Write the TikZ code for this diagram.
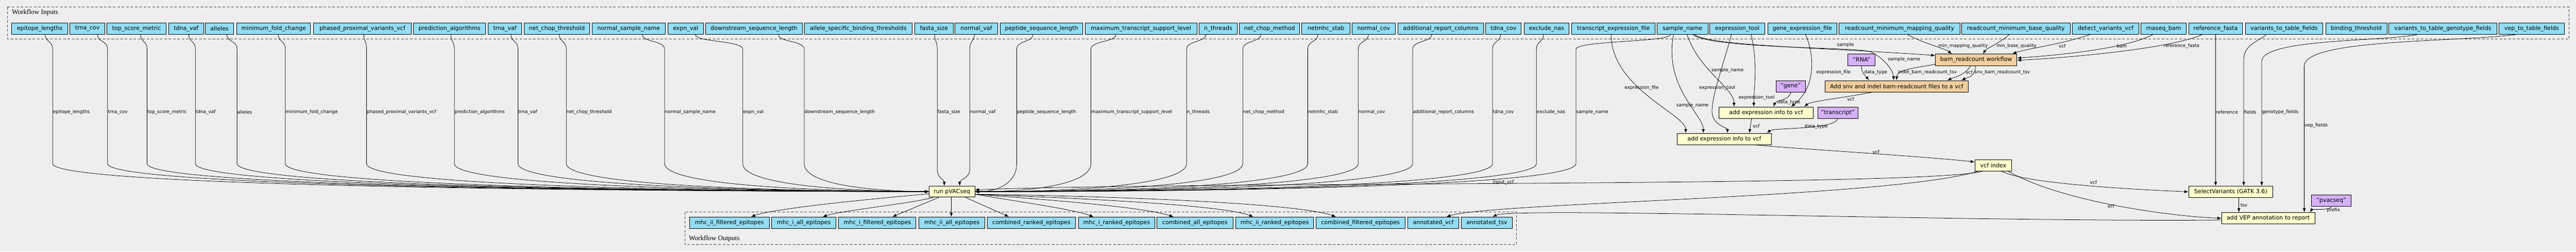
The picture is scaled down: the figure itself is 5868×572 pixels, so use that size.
\documentclass[tikz,border=0pt]{standalone}
\usepackage{fontspec}
\setmainfont{DejaVu Sans}
\newfontfamily\clusterfont{Liberation Serif}
\usetikzlibrary{arrows.meta}
\definecolor{bgc}{HTML}{EEEEEE}
\definecolor{inblue}{HTML}{94DDF4}
\definecolor{stepyel}{HTML}{FFFFCC}
\definecolor{steporg}{HTML}{F3CE9E}
\definecolor{cpurple}{HTML}{D5B0FB}
\definecolor{clgray}{HTML}{444444}
\newcommand\nfont{\fontsize{13}{15}\selectfont}
\newcommand\efont{\fontsize{10.5}{12}\selectfont}
\newcommand\LeftIn[5]{%
  \path (#2,0) coordinate (tt);
  \draw[edge] (#1.south -| tt) .. controls (#2,96) and (#3,92) .. (#3,112) -- (#3,372) .. controls (#3,418) and ({#3+0.5*(2116-#3)},434) .. (pv.west);
  \node[lab] (#5) at (#3,255) {#4};}
\newcommand\RightIn[5]{%
  \path (#2,0) coordinate (tt);
  \draw[edge] (#1.south -| tt) .. controls (#2,96) and (#3,92) .. (#3,112) -- (#3,372) .. controls (#3,418) and ({#3-0.5*(#3-2220)},436) .. (pv.east);
  \node[lab] (#5) at (#3,255) {#4};}
\begin{document}
\begin{tikzpicture}[x=1pt,y=-1pt,
  box/.style={draw=black,line width=1pt,minimum height=26pt,inner sep=0pt,font=\nfont,anchor=west},
  inp/.style={box,fill=inblue},
  stepy/.style={box,fill=stepyel},
  stepo/.style={box,fill=steporg},
  const/.style={box,fill=cpurple},
  outp/.style={box,fill=inblue},
  edge/.style={draw=black,line width=0.9pt,-{Latex[length=9pt,width=7pt]}},
  lab/.style={font=\efont,inner sep=0.5pt,anchor=west},
  cluster/.style={draw=clgray,line width=1.2pt,dash pattern=on 6pt off 4pt},
  cllab/.style={font=\clusterfont\fontsize{15.5}{17}\selectfont,anchor=west,inner sep=0pt}]
\fill[bgc] (0,0) rectangle (5868,572);
\useasboundingbox (0,0) rectangle (5868,572);
% clusters
\draw[cluster] (17,16) rectangle (5852,89);
\node[cllab] (inlabel) at (27,28) {Workflow Inputs};
\draw[cluster] (1560,482) rectangle (3455,556);
\node[cllab] (outlabel) at (1569,542) {Workflow Outputs};
% inputs
\node[inp,minimum width=128pt] (epi) at (26,65) {epitope\_lengths};
\node[inp,minimum width=79pt] (trnacov) at (159,65) {trna\_cov};
\node[inp,minimum width=135pt] (tsm) at (243,65) {top\_score\_metric};
\node[inp,minimum width=79pt] (tdnavaf) at (384,65) {tdna\_vaf};
\node[inp,minimum width=65pt] (alleles) at (467,65) {alleles};
\node[inp,minimum width=168pt] (mfc) at (539,65) {minimum\_fold\_change};
\node[inp,minimum width=222pt] (ppv) at (714,65) {phased\_proximal\_variants\_vcf};
\node[inp,minimum width=165pt] (pa) at (941,65) {prediction\_algorithms};
\node[inp,minimum width=77pt] (trnavaf) at (1111,65) {trna\_vaf};
\node[inp,minimum width=150pt] (nct) at (1193,65) {net\_chop\_threshold};
\node[inp,minimum width=167pt] (nsn) at (1348,65) {normal\_sample\_name};
\node[inp,minimum width=81pt] (expn) at (1521,65) {expn\_val};
\node[inp,minimum width=220pt] (dsl) at (1607,65) {downstream\_sequence\_length};
\node[inp,minimum width=245pt] (asbt) at (1832,65) {allele\_specific\_binding\_thresholds};
\node[inp,minimum width=88pt] (fasta) at (2083,65) {fasta\_size};
\node[inp,minimum width=97pt] (nvaf) at (2175,65) {normal\_vaf};
\node[inp,minimum width=188pt] (psl) at (2278,65) {peptide\_sequence\_length};
\node[inp,minimum width=255pt] (mtsl) at (2471,65) {maximum\_transcript\_support\_level};
\node[inp,minimum width=87pt] (nthr) at (2731,65) {n\_threads};
\node[inp,minimum width=137pt] (ncm) at (2823,65) {net\_chop\_method};
\node[inp,minimum width=110pt] (nstab) at (2965,65) {netmhc\_stab};
\node[inp,minimum width=99pt] (ncov) at (3079,65) {normal\_cov};
\node[inp,minimum width=195pt] (arc) at (3184,65) {additional\_report\_columns};
\node[inp,minimum width=81pt] (tdnacov) at (3384,65) {tdna\_cov};
\node[inp,minimum width=103pt] (exna) at (3471,65) {exclude\_nas};
\node[inp,minimum width=190pt] (tef) at (3580,65) {transcript\_expression\_file};
\node[inp,minimum width=116pt] (sname) at (3774,65) {sample\_name};
\node[inp,minimum width=126pt] (etool) at (3894,65) {expression\_tool};
\node[inp,minimum width=158pt] (gef) at (4026,65) {gene\_expression\_file};
\node[inp,minimum width=275pt] (rmmq) at (4189,65) {readcount\_minimum\_mapping\_quality};
\node[inp,minimum width=247pt] (rmbq) at (4468,65) {readcount\_minimum\_base\_quality};
\node[inp,minimum width=152pt] (dvv) at (4720,65) {detect\_variants\_vcf};
\node[inp,minimum width=104pt] (rbam) at (4876,65) {rnaseq\_bam};
\node[inp,minimum width=123pt] (reff) at (4985,65) {reference\_fasta};
\node[inp,minimum width=177pt] (vttf) at (5114,65) {variants\_to\_table\_fields};
\node[inp,minimum width=140pt] (bthr) at (5297,65) {binding\_threshold};
\node[inp,minimum width=246pt] (vtgf) at (5441,65) {variants\_to\_table\_genotype\_fields};
\node[inp,minimum width=149pt] (vtvf) at (5692,65) {vep\_to\_table\_fields};
% steps
\node[const,minimum width=62pt] (rna) at (4209,136) {"RNA"};
\node[stepo,minimum width=186pt] (bamrc) at (4408,136) {bam\_readcount workflow};
\node[stepo,minimum width=326pt] (addsnv) at (4157,196) {Add snv and indel bam-readcount files to a vcf};
\node[const,minimum width=67pt] (gene) at (4045,196) {"gene"};
\node[stepy,minimum width=215pt] (ae1) at (3915,256) {add expression info to vcf};
\node[const,minimum width=92pt] (trs) at (4140,256) {"transcript"};
\node[stepy,minimum width=215pt] (ae2) at (3820,316) {add expression info to vcf};
\node[stepy,minimum width=84pt] (vidx) at (4498,376) {vcf index};
\node[stepy,minimum width=104pt,minimum height=25pt] (pv) at (2116,435.5) {run pVACseq};
\node[stepy,minimum width=192pt] (sv) at (4985,436) {SelectVariants (GATK 3.6)};
\node[const,minimum width=90pt] (pvq) at (5265,456) {"pvacseq"};
\node[stepy,minimum width=213pt] (avep) at (5060,496) {add VEP annotation to report};
% outputs
\node[outp,minimum width=182pt] (o1) at (1570,506) {mhc\_ii\_filtered\_epitopes};
\node[outp,minimum width=147pt] (o2) at (1757,506) {mhc\_i\_all\_epitopes};
\node[outp,minimum width=176pt] (o3) at (1910,506) {mhc\_i\_filtered\_epitopes};
\node[outp,minimum width=150pt] (o4) at (2093,506) {mhc\_ii\_all\_epitopes};
\node[outp,minimum width=200pt] (o5) at (2249,506) {combined\_ranked\_epitopes};
\node[outp,minimum width=174pt] (o6) at (2456,506) {mhc\_i\_ranked\_epitopes};
\node[outp,minimum width=173pt] (o7) at (2635,506) {combined\_all\_epitopes};
\node[outp,minimum width=178pt] (o8) at (2814,506) {mhc\_ii\_ranked\_epitopes};
\node[outp,minimum width=203pt] (o9) at (2997,506) {combined\_filtered\_epitopes};
\node[outp,minimum width=117pt] (o10) at (3206,506) {annotated\_vcf};
\node[outp,minimum width=117pt] (o11) at (3328,506) {annotated\_tsv};
% inputs to run pVACseq
\LeftIn{epi}{103}{120}{epitope\_lengths}{l1}
\LeftIn{trnacov}{222}{245}{trna\_cov}{l2}
\LeftIn{tsm}{320}{335}{top\_score\_metric}{l3}
\LeftIn{tdnavaf}{430}{445}{tdna\_vaf}{l4}
\LeftIn{alleles}{517}{540}{alleles}{l5}
\LeftIn{mfc}{634}{650}{minimum\_fold\_change}{l6}
\LeftIn{ppv}{829}{835}{phased\_proximal\_variants\_vcf}{l7}
\LeftIn{pa}{1027}{1035}{prediction\_algorithms}{l8}
\LeftIn{trnavaf}{1164}{1180}{trna\_vaf}{l9}
\LeftIn{nct}{1274}{1290}{net\_chop\_threshold}{l10}
\LeftIn{nsn}{1463}{1514}{normal\_sample\_name}{l11}
\LeftIn{expn}{1584}{1692}{expn\_val}{l12}
\LeftIn{dsl}{1773}{1832}{downstream\_sequence\_length}{l13}
\path (2129,0) coordinate (ta); \path (2151,0) coordinate (tb);
\draw[edge] (fasta.south -| ta) .. controls (2129,96) and (2135,92) .. (2135,112) -- (2135,385) .. controls (2135,405) and (2151,408) .. (pv.north -| tb);
\node[lab] (l14) at (2135,255) {fasta\_size};
\path (2220,0) coordinate (ta); \path (2186,0) coordinate (tb);
\draw[edge] (nvaf.south -| ta) .. controls (2218,96) and (2209,92) .. (2209,112) -- (2209,385) .. controls (2209,405) and (2186,408) .. (pv.north -| tb);
\node[lab] (l15) at (2209,255) {normal\_vaf};
\RightIn{psl}{2353}{2316}{peptide\_sequence\_length}{l16}
\RightIn{mtsl}{2542}{2485}{maximum\_transcript\_support\_level}{l17}
\RightIn{nthr}{2747}{2703}{n\_threads}{l18}
\RightIn{ncm}{2872}{2831}{net\_chop\_method}{l19}
\RightIn{nstab}{3002}{2979}{netmhc\_stab}{l20}
\RightIn{ncov}{3117}{3094}{normal\_cov}{l21}
\RightIn{arc}{3261}{3218}{additional\_report\_columns}{l22}
\RightIn{tdnacov}{3418}{3400}{tdna\_cov}{l23}
\RightIn{exna}{3516}{3500}{exclude\_nas}{l24}
\RightIn{sname}{3805}{3590}{sample\_name}{l25}
% bam_readcount inputs
\path (3860,0) coordinate (ta);
\draw[edge] (sname.south -| ta) .. controls (3890,104) and (4150,108) .. ([yshift=10pt]bamrc.west);
\node[lab] (lsample) at (4184,102) {sample};
\path (3856,0) coordinate (ta); \path (4314,0) coordinate (tb);
\draw[edge] (sname.south -| ta) .. controls (3900,112) and (4235,106) .. (4262,118) .. controls (4295,135) and (4312,160) .. (addsnv.north -| tb);
\node[lab] (lsn1) at (4300,135) {sample\_name};
\path (4257,0) coordinate (tb);
\draw[edge] (rna.south) .. controls (4240,168) and (4250,172) .. (addsnv.north -| tb);
\node[lab] (ldt1) at (4246,165) {data\_type};
\path (4320,0) coordinate (tb);
\draw[edge] ([yshift=-10pt]bamrc.west) .. controls (4360,155) and (4322,158) .. (addsnv.north -| tb);
\node[lab] (lindel) at (4323,165) {indel\_bam\_readcount\_tsv};
\path (4489,0) coordinate (ta); \path (4436,0) coordinate (tb);
\draw[edge] (bamrc.south -| ta) .. controls (4475,172) and (4450,176) .. (addsnv.north -| tb);
\node[lab] (lvcf1) at (4477,165) {vcf};
\path (4500,0) coordinate (ta); \path (4468,0) coordinate (tb);
\draw[edge] (bamrc.south -| ta) .. controls (4500,175) and (4482,176) .. (addsnv.north -| tb);
\node[lab] (lsnv) at (4497,165) {snv\_bam\_readcount\_tsv};
\path (4345,0) coordinate (ta); \path (4446,0) coordinate (tb);
\draw[edge] (rmmq.south -| ta) .. controls (4380,98) and (4430,110) .. (bamrc.north -| tb);
\node[lab] (lmmq) at (4415,105) {min\_mapping\_quality};
\path (4577,0) coordinate (ta); \path (4517,0) coordinate (tb);
\draw[edge] (rmbq.south -| ta) .. controls (4555,98) and (4525,110) .. (bamrc.north -| tb);
\node[lab] (lmbq) at (4547,105) {min\_base\_quality};
\path (4761,0) coordinate (ta); \path (4584,0) coordinate (tb);
\draw[edge] (dvv.south -| ta) .. controls (4700,100) and (4610,112) .. (bamrc.north -| tb);
\node[lab] (lvcf2) at (4689,105) {vcf};
\path (4904,0) coordinate (ta);
\draw[edge] (rbam.south -| ta) .. controls (4840,112) and (4680,126) .. ([yshift=4pt]bamrc.east);
\node[lab] (lbam) at (4821,105) {bam};
\path (5017,0) coordinate (ta);
\draw[edge] (reff.south -| ta) .. controls (4940,112) and (4700,132) .. ([yshift=-1pt]bamrc.east);
\node[lab] (lrf) at (4928,105) {reference\_fasta};
% SelectVariants / VEP inputs
\path (5047,0) coordinate (ta);
\draw[edge] (reff.south -| ta) -- (sv.north -| ta);
\node[lab] (lref) at (5047,255) {reference};
\path (5162,0) coordinate (ta); \path (5111,0) coordinate (tb);
\draw[edge] (vttf.south -| ta) .. controls (5150,92) and (5111,100) .. (5111,135) -- (sv.north -| tb);
\node[lab] (lfld) at (5111,255) {fields};
\path (5507,0) coordinate (ta); \path (5152,0) coordinate (tb);
\draw[edge] (vtgf.south -| ta) .. controls (5420,95) and (5152,88) .. (5152,140) -- (sv.north -| tb);
\node[lab] (lgf) at (5152,255) {genotype\_fields};
\path (5731,0) coordinate (ta); \path (5249,0) coordinate (tb);
\draw[edge] (vtvf.south -| ta) .. controls (5600,96) and (5249,88) .. (5249,150) -- (avep.north -| tb);
\node[lab] (lvf) at (5249,285) {vep\_fields};
% expression annotation
\path (4113,0) coordinate (ta); \path (4080,0) coordinate (tb);
\draw[edge] (gef.south -| ta) .. controls (4135,130) and (4135,200) .. (ae1.north -| tb);
\node[lab] (lef1) at (4137,165) {expression\_file};
\path (4265,0) coordinate (ta); \path (4110,0) coordinate (tb);
\draw[edge] (addsnv.south -| ta) .. controls (4190,224) and (4125,230) .. (ae1.north -| tb);
\node[lab] (lvcf3) at (4207,225) {vcf};
\path (4040,0) coordinate (tb);
\draw[edge] (gene.south) .. controls (4078,228) and (4045,228) .. (ae1.north -| tb);
\node[lab] (ldt2) at (4048,232) {data\_type};
\path (3843,0) coordinate (ta); \path (3950,0) coordinate (tb);
\draw[edge] (sname.south -| ta) .. controls (3870,160) and (3950,200) .. (ae1.north -| tb);
\node[lab] (lsn2) at (3898,160) {sample\_name};
\path (3989,0) coordinate (ta); \path (3995,0) coordinate (tb);
\draw[edge] (etool.south -| ta) .. controls (4005,150) and (3995,200) .. (ae1.north -| tb);
\node[lab] (let1) at (3960,222) {expression\_tool};
\path (3990,0) coordinate (ta); \path (3985,0) coordinate (tb);
\draw[edge] (ae1.south -| ta) -- (ae2.north -| tb);
\node[lab] (lvcf4) at (3992,286) {vcf};
\path (4025,0) coordinate (tb);
\draw[edge] (trs.south) .. controls (4180,295) and (4040,290) .. (ae2.north -| tb);
\node[lab] (ldt3) at (4110,288) {data\_type};
\path (3812,0) coordinate (ta); \path (3880,0) coordinate (tb);
\draw[edge] (sname.south -| ta) .. controls (3790,200) and (3880,260) .. (ae2.north -| tb);
\node[lab] (lsn3) at (3818,240) {sample\_name};
\path (3944,0) coordinate (ta); \path (3935,0) coordinate (tb);
\draw[edge] (etool.south -| ta) .. controls (3925,150) and (3898,220) .. (3900,256) .. controls (3902,285) and (3935,290) .. (ae2.north -| tb);
\node[lab] (let2) at (3870,200) {expression\_tool};
\path (3670,0) coordinate (ta); \path (3840,0) coordinate (tb);
\draw[edge] (tef.south -| ta) .. controls (3670,200) and (3840,260) .. (ae2.north -| tb);
\node[lab] (lef2) at (3700,200) {expression\_file};
\path (4000,0) coordinate (ta);
\draw[edge] (ae2.south -| ta) .. controls (4060,336) and (4380,355) .. ([yshift=8pt]vidx.west);
\node[lab] (lvcf5) at (4265,345) {vcf};
% vcf index outputs
\path (4515,0) coordinate (ta);
\draw[edge] (vidx.south -| ta) .. controls (4380,425) and (2700,412) .. ([yshift=4pt]pv.east);
\node[lab] (linp) at (3400,414) {input\_vcf};
\path (4560,0) coordinate (ta);
\draw[edge] (vidx.south -| ta) .. controls (4620,420) and (4900,432) .. (sv.west);
\node[lab] (lvcf6) at (4760,415) {vcf};
\path (4575,0) coordinate (ta);
\draw[edge] (vidx.south -| ta) .. controls (4700,460) and (4950,492) .. (avep.west);
\node[lab] (lvcf7) at (4800,468) {vcf};
\path (4505,0) coordinate (ta); \path (3295,0) coordinate (tb);
\draw[edge] (vidx.south -| ta) .. controls (4300,450) and (3400,460) .. (o10.north -| tb);
\path (5100,0) coordinate (tb);
\draw[edge] (sv.south -| tb) -- (avep.north -| tb);
\node[lab] (ltsv) at (5103,466) {tsv};
\path (5262,0) coordinate (tb);
\draw[edge] (pvq.south) .. controls (5310,478) and (5266,476) .. (avep.north -| tb);
\node[lab] (lpre) at (5300,478) {prefix};
\path (3400,0) coordinate (tb);
\draw[edge] ([yshift=-4pt]avep.west) .. controls (4500,505) and (3450,470) .. (o11.north -| tb);
% run pVACseq outputs
\path (1711,0) coordinate (tb);
\draw[edge] ([yshift=-5pt]pv.west) .. controls (1950,455) and (1760,475) .. (o1.north -| tb);
\path (2126,0) coordinate (ta); \path (1874,0) coordinate (tb);
\draw[edge] (pv.south -| ta) .. controls (2080,462) and (1920,478) .. (o2.north -| tb);
\path (2139,0) coordinate (ta); \path (2033,0) coordinate (tb);
\draw[edge] (pv.south -| ta) -- (o3.north -| tb);
\path (2167,0) coordinate (ta);
\draw[edge] (pv.south -| ta) -- (o4.north -| ta);
\path (2199,0) coordinate (ta); \path (2298,0) coordinate (tb);
\draw[edge] (pv.south -| ta) -- (o5.north -| tb);
\path (2491,0) coordinate (tb);
\draw[edge] ([yshift=-6pt]pv.east) .. controls (2330,460) and (2440,475) .. (o6.north -| tb);
\path (2673,0) coordinate (tb);
\draw[edge] ([yshift=-6pt]pv.east) .. controls (2400,455) and (2600,470) .. (o7.north -| tb);
\path (2855,0) coordinate (tb);
\draw[edge] ([yshift=-6pt]pv.east) .. controls (2450,450) and (2780,465) .. (o8.north -| tb);
\path (3043,0) coordinate (tb);
\draw[edge] ([yshift=-6pt]pv.east) .. controls (2500,445) and (2950,460) .. (o9.north -| tb);
\end{tikzpicture}
\end{document}
